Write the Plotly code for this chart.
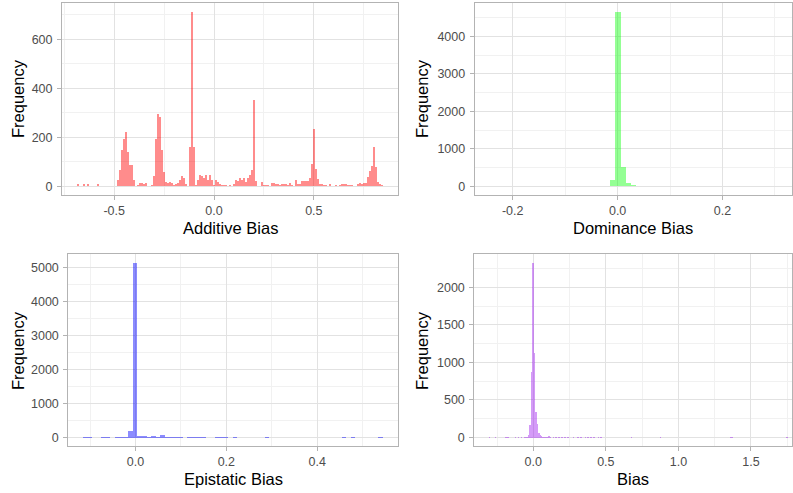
import plotly.graph_objects as go

W, H = 793, 493

# ---------------- data (histogram counts, bin width 0.01) ----------------
bin_width = 0.01

additive_start = -0.68
additive_counts = [
    8, 0, 0, 8, 0, 8, 0, 0, 0, 0,
    8, 0, 0, 0, 0, 0, 0, 0, 0, 0,
    25, 65, 150, 195, 220, 140, 85, 85, 25, 0,
    5, 12, 15, 8, 12, 0, 0, 5, 40, 195,
    297, 283, 150, 60, 18, 12, 18, 12, 5, 8,
    15, 25, 41, 35, 8, 0, 161, 713, 161, 5,
    27, 48, 41, 35, 48, 27, 48, 24, 7, 24,
    18, 11, 7, 4, 4, 0, 4, 0, 8, 24,
    22, 33, 24, 35, 18, 35, 48, 68, 352, 20,
    0, 0, 18, 5, 5, 5, 0, 15, 12, 8,
    8, 5, 8, 8, 10, 5, 12, 5, 0, 25,
    8, 8, 20, 20, 20, 20, 35, 90, 235, 72,
    30, 8, 8, 5, 5, 0, 8, 0, 0, 5,
    0, 5, 8, 10, 8, 5, 5, 5, 0, 0,
    10, 12, 10, 15, 15, 38, 63, 82, 161, 79,
    18, 8, 4,
]

dominance_start = -0.24
dominance_counts = [
    5, 0, 5, 0, 0, 0, 0, 0, 5, 0,
    0, 5, 0, 0, 5, 5, 5, 0, 0, 0,
    5, 8, 20, 160, 4660, 516, 89, 35, 15, 12,
    8, 0, 5, 0, 5, 5, 5, 0, 5, 5,
    5, 0, 0, 0, 0, 0, 0, 0, 0, 0,
    0, 0, 0, 0, 5,
]

epistatic_start = -0.11
epistatic_counts = [
    8, 8, 0, 0, 15, 8, 0, 15, 10, 15,
    195, 5150, 40, 40, 30, 45, 10, 80, 20, 25,
    25, 10, 5, 15, 20, 10, 10, 5, 5, 8,
    8, 8, 5, 8, 0, 0, 0, 0, 0, 0,
    8, 0, 0, 0, 0, 0, 0, 0, 0, 0,
    0, 0, 0, 0, 0, 0, 0, 8, 0, 8,
    0, 0, 0, 0, 0, 8,
]

bias_bins = [-0.30, -0.26, -0.19, -0.18, -0.17, -0.12, -0.10, -0.08, -0.06,
             -0.05, -0.04, -0.03, -0.02, -0.01, 0.00, 0.01, 0.02, 0.03, 0.04,
             0.05, 0.06, 0.07, 0.08, 0.09, 0.10, 0.11, 0.12, 0.14, 0.16, 0.18,
             0.20, 0.22, 0.24, 0.28, 0.31, 0.33, 0.36, 0.38, 0.40, 0.42, 0.45,
             0.47, 0.68, 0.88, 1.36, 1.37, 1.75]
bias_counts = [5, 5, 10, 10, 8, 8, 10, 8, 10,
               10, 15, 40, 170, 875, 2334, 1125, 340, 180, 70,
               35, 25, 15, 15, 15, 12, 20, 15, 12, 10, 12,
               10, 8, 8, 6, 6, 6, 6, 6, 6, 6, 6,
               6, 5, 5, 5, 5, 5]

x_titles = ["Additive Bias", "Dominance Bias", "Epistatic Bias", "Bias"]
y_title = "Frequency"

x_major_ticks = [[-0.5, 0.0, 0.5], [-0.2, 0.0, 0.2], [0.0, 0.2, 0.4], [0.0, 0.5, 1.0, 1.5]]
x_minor_ticks = [[-0.75, -0.25, 0.25, 0.75], [-0.3, -0.1, 0.1, 0.3],
                 [-0.1, 0.1, 0.3, 0.5], [-0.25, 0.25, 0.75, 1.25, 1.75]]

# ---------------- styling ----------------
colors = ["rgba(255,0,0,0.45)", "rgba(0,255,0,0.42)",
          "rgba(0,0,255,0.45)", "rgba(160,32,240,0.45)"]
FONT = "Liberation Sans, Arial, Helvetica, sans-serif"
FRAME = "#B3B3B3"
GRID = "#E2E2E2"
MINOR = "#F1F1F1"

# panel frames in pixels: (left, right, top, bottom)
frames = [(62, 398, 3, 195), (474.7, 792, 3, 195),
          (68.3, 398, 253.5, 446), (474.3, 792, 253.5, 446)]

fig = go.Figure()

fig.add_trace(go.Bar(x0=additive_start, dx=bin_width, y=additive_counts,
                     width=bin_width, marker=dict(color=colors[0], line=dict(width=0)),
                     xaxis="x", yaxis="y"))
fig.add_trace(go.Bar(x0=dominance_start, dx=bin_width, y=dominance_counts,
                     width=bin_width, marker=dict(color=colors[1], line=dict(width=0)),
                     xaxis="x2", yaxis="y2"))
fig.add_trace(go.Bar(x0=epistatic_start, dx=bin_width, y=epistatic_counts,
                     width=bin_width, marker=dict(color=colors[2], line=dict(width=0)),
                     xaxis="x3", yaxis="y3"))
fig.add_trace(go.Bar(x=bias_bins, y=bias_counts,
                     width=bin_width, marker=dict(color=colors[3], line=dict(width=0)),
                     xaxis="x4", yaxis="y4"))


def xr(start, n):
    lo = start - bin_width / 2
    hi = start + (n - 1) * bin_width + bin_width / 2
    pad = 0.05 * (hi - lo)
    return [lo - pad, hi + pad]


def yr(counts):
    m = max(counts)
    return [-0.05 * m, 1.05 * m]


x_ranges = [xr(additive_start, len(additive_counts)),
            xr(dominance_start, len(dominance_counts)),
            xr(epistatic_start, len(epistatic_counts)),
            [-0.4065, 1.7826]]
y_ranges = [yr(additive_counts), yr(dominance_counts), yr(epistatic_counts), yr(bias_counts)]
y_dticks = [(200, 100), (1000, 500), (1000, 500), (500, 250)]

layout = dict(width=W, height=H, margin=dict(l=0, r=0, t=0, b=0),
              paper_bgcolor="white", plot_bgcolor="white",
              showlegend=False, bargap=0, barmode="overlay")

for i, (l, r, t, b) in enumerate(frames):
    sfx = "" if i == 0 else str(i + 1)
    common = dict(showline=True, mirror=True, linecolor=FRAME, linewidth=1,
                  showgrid=True, gridcolor=GRID, gridwidth=1, zeroline=False,
                  ticks="outside", ticklen=4, tickcolor=FRAME, tickwidth=1,
                  tickfont=dict(family=FONT, size=12.5, color="#4D4D4D"),
                  fixedrange=True)
    layout["xaxis" + sfx] = dict(
        common, domain=[l / W, r / W], anchor="y" + sfx, range=x_ranges[i],
        tickmode="array", tickvals=x_major_ticks[i],
        ticktext=[f"{v:.1f}" for v in x_major_ticks[i]], ticklabelstandoff=0,
        minor=dict(tickmode="array", tickvals=x_minor_ticks[i], showgrid=True,
                   gridcolor=MINOR, gridwidth=1, ticks=""))
    layout["yaxis" + sfx] = dict(
        common, domain=[1 - b / H, 1 - t / H], anchor="x" + sfx, range=y_ranges[i],
        tick0=0, dtick=y_dticks[i][0], ticklabelstandoff=2,
        minor=dict(tick0=0, dtick=y_dticks[i][1], showgrid=True,
                   gridcolor=MINOR, gridwidth=1, ticks=""))

annotations = []
title_pos = [(230, 228), (633, 228), (233, 479), (633, 479)]
ylab_pos = [(18, 99), (422, 99), (18, 351), (422, 351)]
for i in range(4):
    annotations.append(dict(text=x_titles[i], x=title_pos[i][0] / W, y=1 - title_pos[i][1] / H,
                            xref="paper", yref="paper", showarrow=False,
                            xanchor="center", yanchor="middle",
                            font=dict(family=FONT, size=16.5, color="black")))
    annotations.append(dict(text=y_title, x=ylab_pos[i][0] / W, y=1 - ylab_pos[i][1] / H,
                            xref="paper", yref="paper", showarrow=False, textangle=-90,
                            xanchor="center", yanchor="middle",
                            font=dict(family=FONT, size=16.5, color="black")))
layout["annotations"] = annotations

fig.update_layout(**layout)
fig.write_html("out.html", config={"displayModeBar": False},
               post_script="document.body.style.margin='0';document.body.style.padding='0';")
